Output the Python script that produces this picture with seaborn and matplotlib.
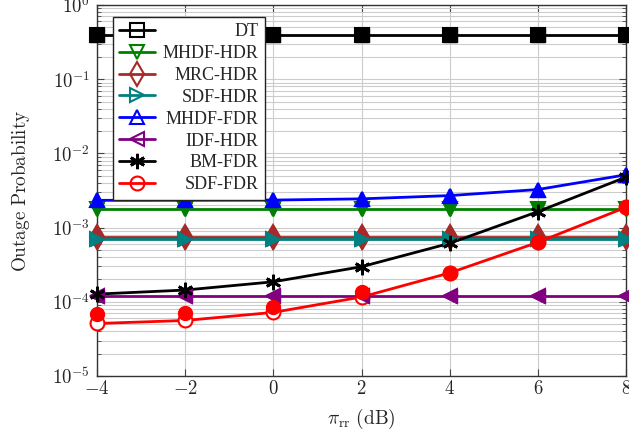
import numpy as np
import pandas as pd
import matplotlib
matplotlib.use("Agg")
import matplotlib.pyplot as plt
import seaborn as sns
from matplotlib.lines import Line2D
from matplotlib.ticker import FixedLocator, LogLocator, FuncFormatter, NullFormatter

# Relay self-interference level (dB)
pi_rr_db = [-4, -2, 0, 2, 4, 6, 8]

# Outage probability of each scheme
dt = [0.39, 0.39, 0.39, 0.39, 0.39, 0.39, 0.39]
mhdf_hdr = [1.77e-3, 1.77e-3, 1.77e-3, 1.77e-3, 1.77e-3, 1.77e-3, 1.77e-3]
mrc_hdr = [7.4e-4, 7.4e-4, 7.4e-4, 7.4e-4, 7.4e-4, 7.4e-4, 7.4e-4]
sdf_hdr = [7.1e-4, 7.1e-4, 7.1e-4, 7.1e-4, 7.1e-4, 7.1e-4, 7.1e-4]
mhdf_fdr = [2.33e-3, 2.34e-3, 2.35e-3, 2.44e-3, 2.70e-3, 3.26e-3, 5.15e-3]
idf_hdr = [1.19e-4, 1.19e-4, 1.19e-4, 1.19e-4, 1.19e-4, 1.19e-4, 1.19e-4]
bm_fdr = [1.27e-4, 1.44e-4, 1.86e-4, 2.97e-4, 6.14e-4, 1.64e-3, 4.79e-3]
sdf_fdr = [5.1e-5, 5.6e-5, 7.2e-5, 1.16e-4, 2.45e-4, 6.33e-4, 1.88e-3]
sdf_fdr_sim = [6.8e-5, 7.0e-5, 8.5e-5, 1.34e-4, 2.45e-4, 6.33e-4, 1.88e-3]

labels = ["DT", "MHDF-HDR", "MRC-HDR", "SDF-HDR", "MHDF-FDR", "IDF-HDR", "BM-FDR", "SDF-FDR"]

sns.set_theme(style="white")
plt.rcParams["font.family"] = ["Liberation Serif", "DejaVu Serif"]
plt.rcParams["mathtext.fontset"] = "cm"

asterisk = (6, 2, 0)
styles = [
    ("#000000", "s", 9.5),
    ("#008000", "v", 10),
    ("#A52A2A", "d", 12),
    ("#008080", ">", 10),
    ("#0000FF", "^", 10),
    ("#800080", "<", 10),
    ("#000000", asterisk, 11),
    ("#FF0000", "o", 10),
]
analytic = [dt, mhdf_hdr, mrc_hdr, sdf_hdr, mhdf_fdr, idf_hdr, bm_fdr, sdf_fdr]
simulated = [dt, mhdf_hdr, mrc_hdr, sdf_hdr, mhdf_fdr, idf_hdr, bm_fdr, sdf_fdr_sim]

fig = plt.figure(figsize=(6.29, 4.40), dpi=100)
ax = fig.add_axes([97 / 629, 1 - 376 / 440, 529 / 629, 371 / 440])

for (color, marker, ms), ya, ys in zip(styles, analytic, simulated):
    # analytical curve with open markers
    sns.lineplot(x=pi_rr_db, y=ya, ax=ax, color=color, lw=2, marker=marker,
                 markersize=ms, markerfacecolor="white", markeredgecolor=color,
                 markeredgewidth=1.5, clip_on=False, zorder=3)
    # simulation points, filled
    sns.lineplot(x=pi_rr_db, y=ys, ax=ax, color=color, lw=0, marker=marker,
                 markersize=ms, markerfacecolor=color, markeredgecolor=color,
                 markeredgewidth=2 if marker == asterisk else 1, clip_on=False,
                 zorder=4)

ax.set_yscale("log")
ax.set_xlim(-4, 8)
ax.set_ylim(1e-5, 1)

ax.xaxis.set_major_locator(FixedLocator(pi_rr_db))
ax.xaxis.set_major_formatter(FuncFormatter(lambda v, p: f"${int(round(v))}$"))
ax.yaxis.set_major_locator(LogLocator(base=10, numticks=10))
ax.yaxis.set_minor_locator(LogLocator(base=10, subs=np.arange(2, 10), numticks=20))
ax.yaxis.set_major_formatter(FuncFormatter(lambda v, p: f"$10^{{{int(round(np.log10(v)))}}}$"))
ax.yaxis.set_minor_formatter(NullFormatter())

ax.grid(True, which="major", color="#cccccc", lw=0.8)
ax.grid(True, which="minor", axis="y", color="#cccccc", lw=0.8)
ax.set_axisbelow(True)

ax.tick_params(which="both", direction="in", top=True, right=True,
               bottom=True, left=True, color="#444444")
ax.tick_params(which="major", length=5, width=0.8, labelsize=13.5)
ax.tick_params(axis="x", which="major", pad=3)
ax.tick_params(axis="y", which="major", pad=5)
ax.tick_params(which="minor", length=3, width=0.6)
for s in ax.spines.values():
    s.set_color("#333333")
    s.set_linewidth(1.0)

ax.set_xlabel(r"$\pi_{\mathrm{rr}}\ \mathrm{(dB)}$", fontsize=14, labelpad=6)
ax.set_ylabel(r"$\mathrm{Outage\ Probability}$", fontsize=13.8)
ax.yaxis.set_label_coords(-0.122, 0.5)

handles = [
    Line2D([], [], color=c, lw=2, marker=m, markersize=ms, markerfacecolor="none",
           markeredgecolor=c, markeredgewidth=1.5 if m != asterisk else 2)
    for c, m, ms in styles
]
leg = ax.legend(handles, labels, loc="upper left", bbox_to_anchor=(0.03, 0.968),
                borderaxespad=0, frameon=True, fancybox=False, framealpha=1,
                edgecolor="#222222", fontsize=13, handlelength=2.0,
                handletextpad=0.4, labelspacing=0.27, borderpad=0.35)
leg.get_frame().set_linewidth(1.0)
leg.set_zorder(10)

# right-align the legend entries
fig.canvas.draw()
renderer = fig.canvas.get_renderer()
widths = [t.get_window_extent(renderer).width for t in leg.get_texts()]
wmax = max(widths)
for t, w in zip(leg.get_texts(), widths):
    t.set_position((wmax - w, 0))

fig.savefig("out.png", dpi=100)
